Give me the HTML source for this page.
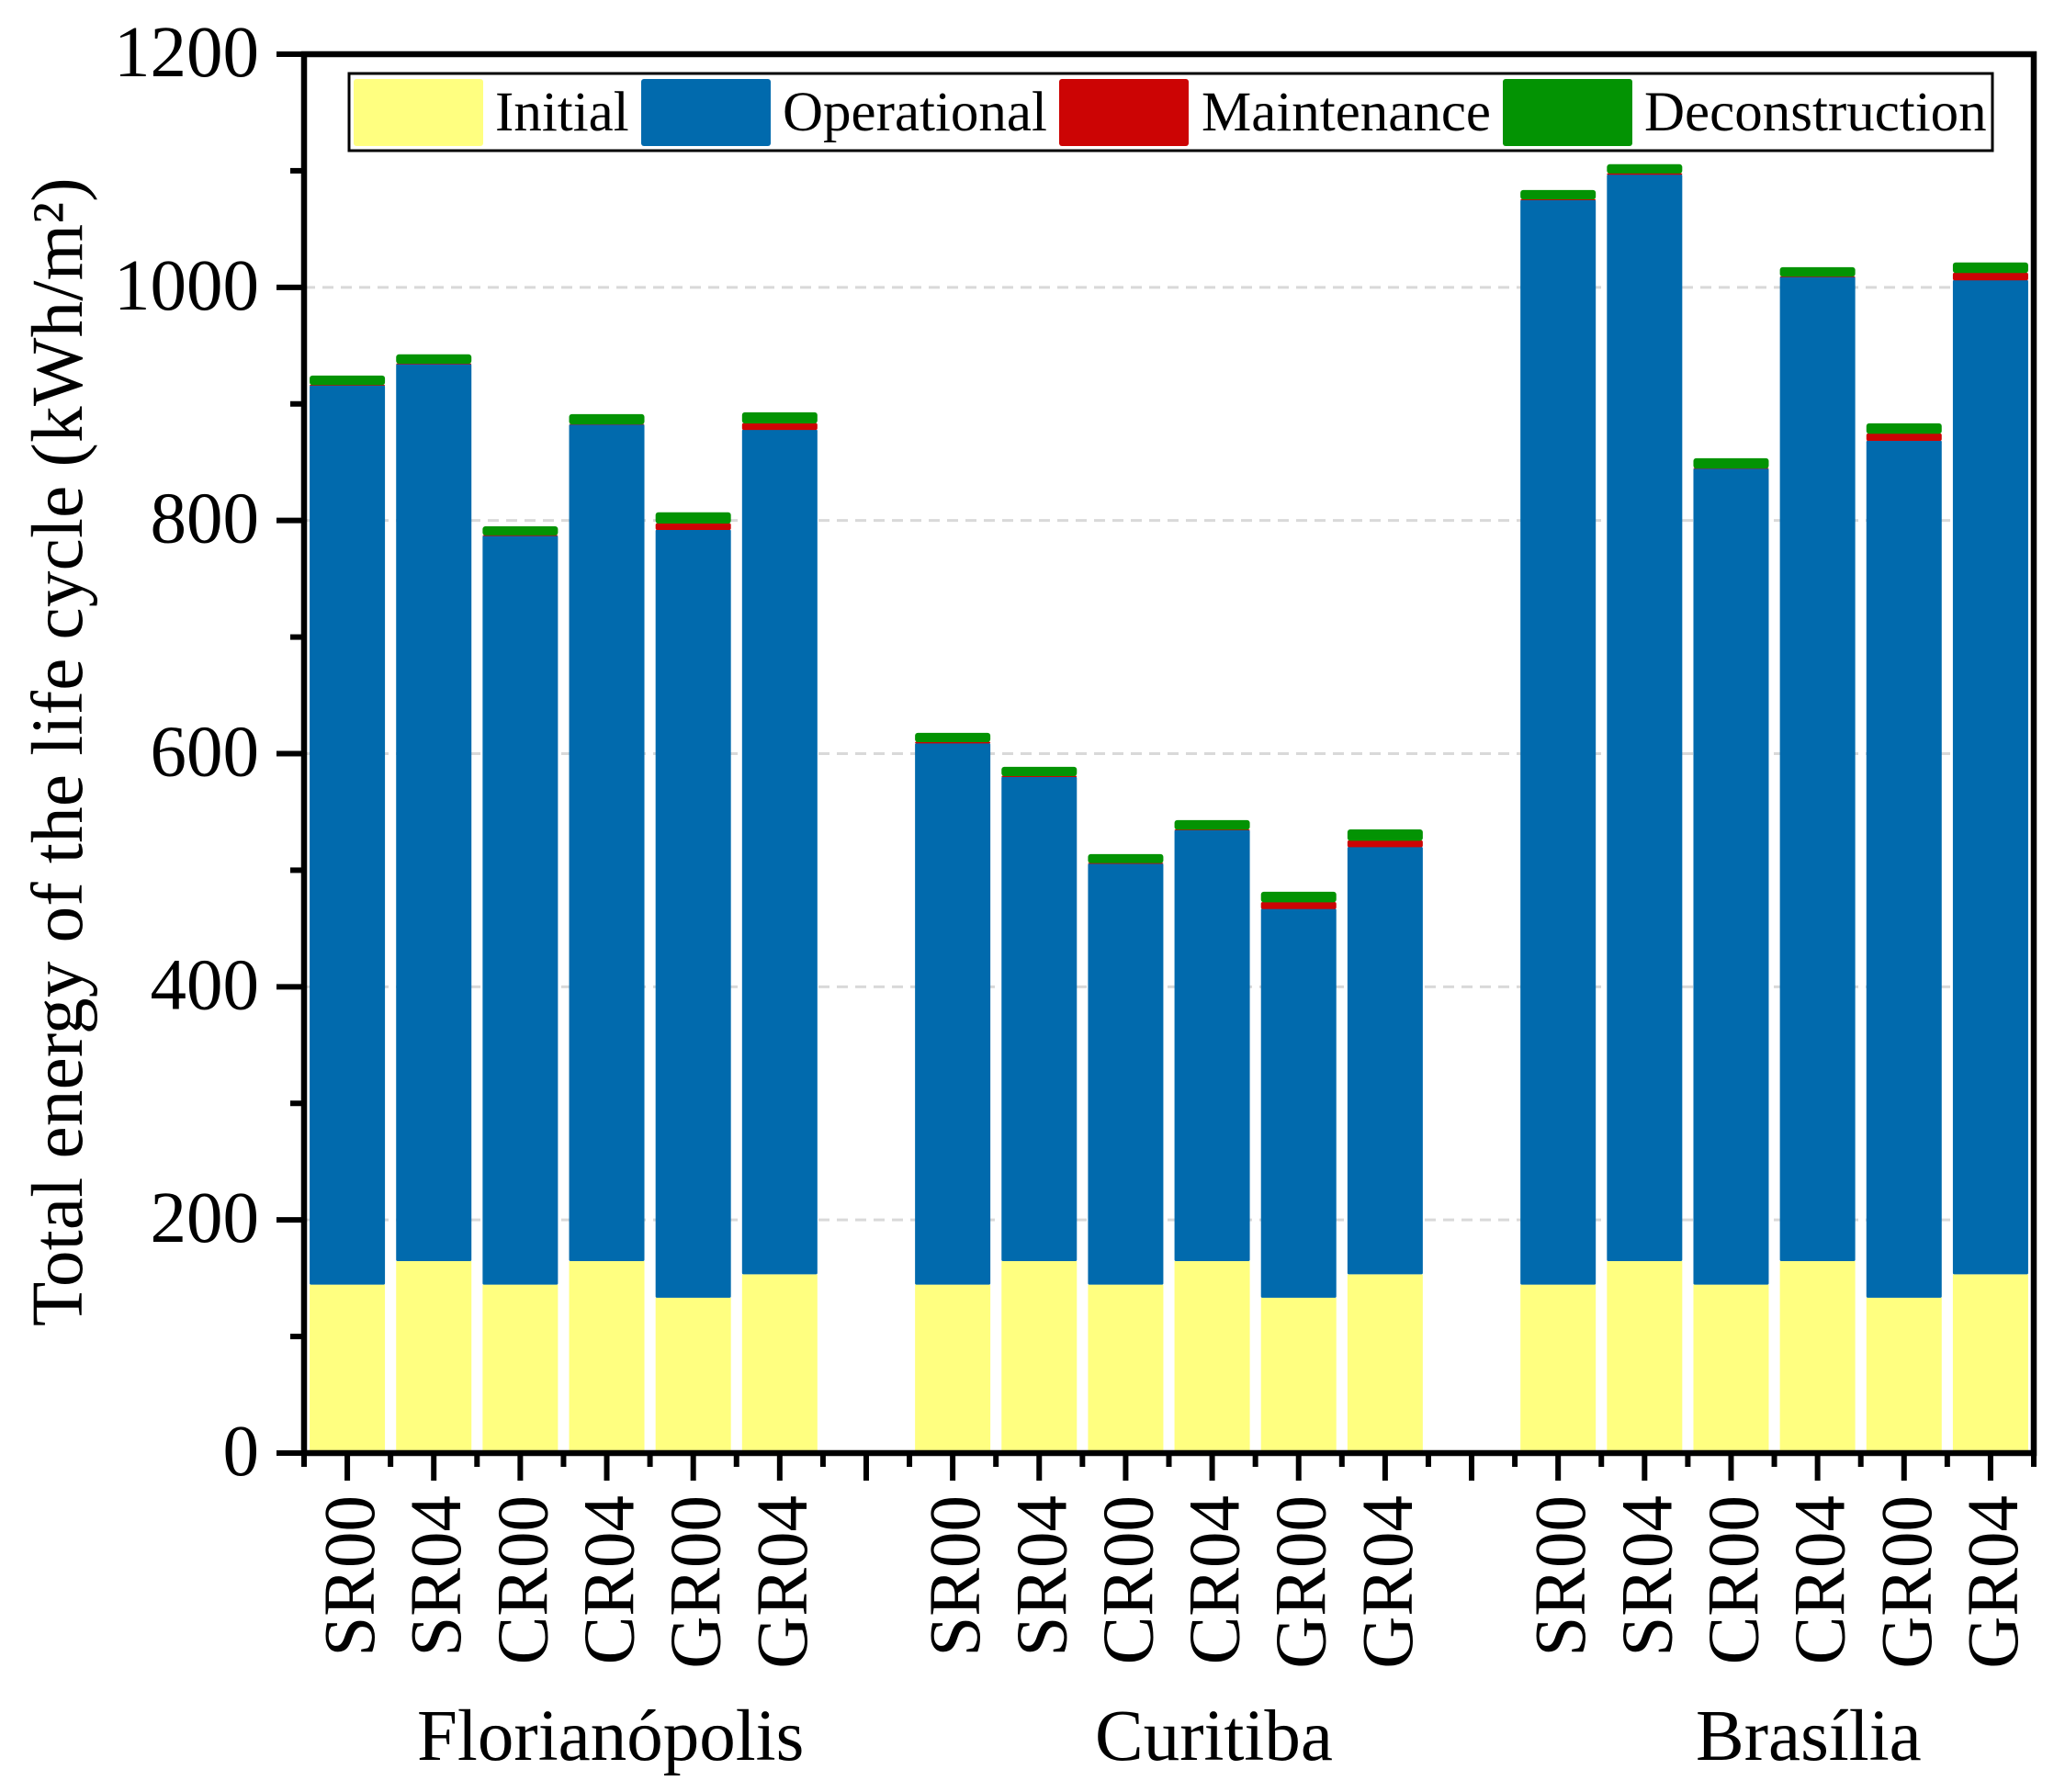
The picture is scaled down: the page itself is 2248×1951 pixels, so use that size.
<!DOCTYPE html>
<html lang="en">
<head>
<meta charset="utf-8">
<title>Total energy of the life cycle</title>
<style>
html,body{margin:0;padding:0;background:#fff;}
svg{display:block;}
text{font-family:"Liberation Serif",serif;fill:#000;}
</style>
</head>
<body>
<svg id="chart" xmlns="http://www.w3.org/2000/svg" width="2248" height="1951" viewBox="0 0 2248 1951">
  <rect x="0" y="0" width="2248" height="1951" fill="#ffffff"/>
  <g id="grid"></g>
  <g id="bars"></g>
  <g id="axes"></g>
  <text transform="translate(89,1444) rotate(-90)" font-size="79" letter-spacing="0.26">Total energy of the life cycle (kWh/m²)</text>
  <g>
    <rect x="380" y="80" width="1789" height="84" fill="#ffffff" stroke="#000" stroke-width="3"/>
    <rect x="385" y="86" width="141" height="73" rx="3" fill="#ffff80"/>
    <text x="539" y="142" font-size="61">Initial</text>
    <rect x="698" y="86" width="141" height="73" rx="3" fill="#016aad"/>
    <text x="852" y="142" font-size="61">Operational</text>
    <rect x="1153" y="86" width="141" height="73" rx="3" fill="#cc0404"/>
    <text x="1308" y="142" font-size="61">Maintenance</text>
    <rect x="1636" y="86" width="141" height="73" rx="3" fill="#039303"/>
    <text x="1790" y="142" font-size="61">Deconstruction</text>
  </g>
  <text x="454" y="1916" font-size="79">Florianópolis</text>
  <text x="1192" y="1916" font-size="79">Curitiba</text>
  <text x="1846" y="1916" font-size="79">Brasília</text>
</svg>
<script>
const categories = ['SR00','SR04','CR00','CR04','GR00','GR04'];
const groups = ['Florianópolis','Curitiba','Brasília'];
const yTicks = [0,200,400,600,800,1000,1200];
const yMinorTicks = [100,300,500,700,900,1100];
const initial = [
  144.5,164.7,144.5,164.7,133.3,153.3,
  144.5,164.7,144.5,164.7,133.3,153.3,
  144.5,164.7,144.5,164.7,133.3,153.3
];
const operational = [
  771.5,769.6,642.5,717.8,658.9,724.7,
  464.6,415.5,361.3,369.8,333.7,366.7,
  930.5,932.2,700.2,844.3,735.3,853.0
];
const maintenance = [
  0.5,0.5,0.5,0.3,5.5,5.6,
  1.1,0.8,0.6,0.5,5.8,5.6,
  0.7,1.1,0.3,0.5,6.1,6.3
];
const deconstruction = [
  7.8,7.7,7.5,8.4,9.3,9.2,
  7.6,7.7,7.4,8.0,8.7,9.4,
  7.8,7.6,8.4,7.8,8.7,8.7
];

const NS = 'http://www.w3.org/2000/svg';
const plotLeft = 331, plotRight = 2214, plotTop = 59, plotBottom = 1582;
const yMax = 1200, slots = 20, barWidth = 82;
const slotWidth = (plotRight - plotLeft) / slots;

function yScale(v){ return plotBottom - (v / yMax) * (plotBottom - plotTop); }
function slotCenter(s){ return plotLeft + (s + 0.5) * slotWidth; }

function make(tag, parent, attrs){
  const el = document.createElementNS(NS, tag);
  for (const k in attrs) el.setAttribute(k, attrs[k]);
  parent.appendChild(el);
  return el;
}

const gridG = document.getElementById('grid');
const barsG = document.getElementById('bars');
const axesG = document.getElementById('axes');

// gridlines
yTicks.filter(t => t > 0 && t < yMax).forEach(t => {
  const l = make('line', gridG, {x1:plotLeft, x2:plotRight, y1:yScale(t), y2:yScale(t), stroke:'#d9d9d9', 'stroke-width':3, 'stroke-dasharray':'12 8'});
  
  
});

// stacked bars
const seriesList = [
  {key:'initial', values:initial, color:'#ffff80', rx:0, overlap:0},
  {key:'operational', values:operational, color:'#016aad', rx:1.5, overlap:0},
  {key:'maintenance', values:maintenance, color:'#cc0404', rx:2, overlap:0.4},
  {key:'deconstruction', values:deconstruction, color:'#039303', rx:3, overlap:0.4}
];
groups.forEach((g, gi) => {
  categories.forEach((c, ci) => {
    const idx = gi * categories.length + ci;
    const s = gi * (categories.length + 1) + ci;
    let base = 0;
    seriesList.forEach(series => {
      const top = base + series.values[idx];
      const r = make('rect', barsG, {
        x: slotCenter(s) - barWidth / 2,
        y: yScale(top),
        width: barWidth,
        height: yScale(base) - yScale(top) + series.overlap,
        rx: series.rx,
        fill: series.color
      });
      
      
      base = top;
    });
    const label = make('text', axesG, {
      transform: 'translate(' + (slotCenter(s) + 29) + ',1628) rotate(-90)',
      'text-anchor': 'end',
      'font-size': 79
    });
    label.textContent = c;
    
    
  });
});

// y ticks
yTicks.forEach(t => {
  const tk = make('line', axesG, {x1:301, x2:plotLeft, y1:yScale(t), y2:yScale(t), stroke:'#000', 'stroke-width':6});
  
  
  const lb = make('text', axesG, {x:282, y:yScale(t) + 24, 'text-anchor':'end', 'font-size':79});
  lb.textContent = String(t);
  
  
});
yMinorTicks.forEach(t => {
  const tk = make('line', axesG, {x1:316, x2:plotLeft, y1:yScale(t), y2:yScale(t), stroke:'#000', 'stroke-width':6});
  
  
});

// x ticks
for (let s = 0; s < slots; s++) {
  const tk = make('line', axesG, {x1:slotCenter(s), x2:slotCenter(s), y1:plotBottom, y2:1612, stroke:'#000', 'stroke-width':6});
  
  
}
for (let s = 0; s <= slots; s++) {
  const xm = plotLeft + s * slotWidth;
  const tk = make('line', axesG, {x1:xm, x2:xm, y1:plotBottom, y2:1597, stroke:'#000', 'stroke-width':6});
  
  
}

// frame
const frame = make('rect', axesG, {x:plotLeft, y:plotTop, width:plotRight - plotLeft, height:plotBottom - plotTop, fill:'none', stroke:'#000', 'stroke-width':6.5});


</script>
</body>
</html>
